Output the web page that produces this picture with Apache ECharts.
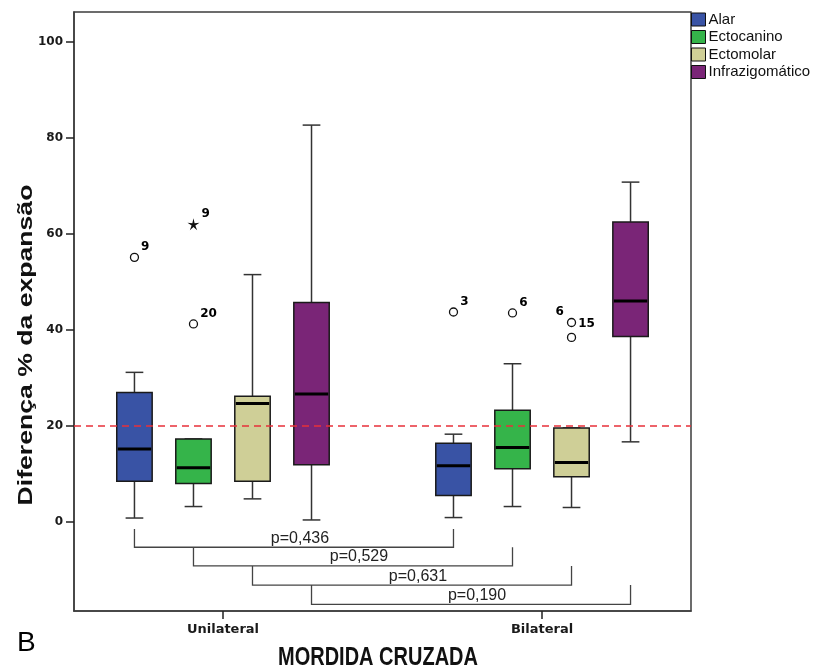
<!DOCTYPE html>
<html>
<head>
<meta charset="utf-8">
<script src="https://cdn.jsdelivr.net/npm/echarts@6/dist/echarts.min.js"></script>
<style>
  html, body { margin: 0; padding: 0; background: #fff; }
  #chart { width: 816px; height: 670px; }
</style>
</head>
<body>
<div id="chart"></div>
<script>
// ---- data ----
const groups = ['Unilateral', 'Bilateral'];
const regions = ['Alar', 'Ectocanino', 'Ectomolar', 'Infrazigomático'];

// five-number summaries [min, Q1, median, Q3, max], one row per group
const alarBox = [[0.7, 8.4, 15.1, 26.9, 31.1], [0.8, 5.4, 11.6, 16.3, 18.2]];
const ectocaninoBox = [[3.1, 7.9, 11.2, 17.2, 17.2], [3.1, 11.0, 15.4, 23.2, 32.9]];
const ectomolarBox = [[4.7, 8.4, 24.6, 26.1, 51.5], [2.9, 9.3, 12.3, 19.5, 19.5]];
const infraBox = [[0.3, 11.8, 26.6, 45.7, 82.7], [16.6, 38.6, 46.0, 62.5, 70.8]];

// outlying cases: [group index, value, case number, kind ('o' outlier, '*' extreme)]
const alarOut = [[0, 55.1, '9', 'o'], [1, 43.7, '3', 'o']];
const ectocaninoOut = [[0, 62.0, '9', '*'], [0, 41.2, '20', 'o'], [1, 43.5, '6', 'o']];
const ectomolarOut = [[1, 41.5, '15', 'o'], [1, 38.4, '6', 'o']];
const infraOut = [];

const referenceValue = 20;
const pValues = ['p=0,436', 'p=0,529', 'p=0,631', 'p=0,190'];
const yTicks = [0, 20, 40, 60, 80, 100];

// ---- layout ----
const colors = ['#3953a5', '#35b44a', '#cfcf97', '#7a2577'];
const SLOT_STEP = 0.185;      // distance between neighbouring boxes (x units)
const BOX_WIDTH = 0.111;      // box width (x units)
const bracketLevels = [-1.6, -5.4, -9.3, -13.3, -17.3];
const FONT = '"Liberation Sans", Arial, sans-serif';
const NUM_FONT = '"DejaVu Sans", sans-serif';

const boxes = [alarBox, ectocaninoBox, ectomolarBox, infraBox];
const outliers = [alarOut, ectocaninoOut, ectomolarOut, infraOut];

function slotOffset(slot) { return (slot - 1.5) * SLOT_STEP; }

const STAR = 'path://M50,0 L59,38 L98,35 L65,56 L79,93 L50,68 L21,93 L35,56 L2,35 L41,38 Z';

const labelPlacement = {
  'Ectomolar|1|6': { position: 'left', offset: [1, -26] },
  'Ectomolar|1|15': { position: 'right', offset: [-2, 1] }
};

function renderBox(slot) {
  return function (params, api) {
    const gx = api.value(0) + slotOffset(slot);
    const pMin = api.coord([gx, api.value(1)]);
    const pQ1 = api.coord([gx, api.value(2)]);
    const pMed = api.coord([gx, api.value(3)]);
    const pQ3 = api.coord([gx, api.value(4)]);
    const pMax = api.coord([gx, api.value(5)]);
    const w = api.size([BOX_WIDTH, 0])[0];
    const cx = pMin[0];
    const cap = w / 4;
    const whisker = { stroke: '#333', lineWidth: 1.5 };
    return {
      type: 'group',
      children: [
        { type: 'line', shape: { x1: cx, y1: pMin[1], x2: cx, y2: pQ1[1] }, style: whisker },
        { type: 'line', shape: { x1: cx, y1: pQ3[1], x2: cx, y2: pMax[1] }, style: whisker },
        { type: 'line', shape: { x1: cx - cap, y1: pMin[1], x2: cx + cap, y2: pMin[1] }, style: whisker },
        { type: 'line', shape: { x1: cx - cap, y1: pMax[1], x2: cx + cap, y2: pMax[1] }, style: whisker },
        {
          type: 'rect',
          shape: { x: cx - w / 2, y: pQ3[1], width: w, height: pQ1[1] - pQ3[1] },
          style: { fill: api.visual('color'), stroke: '#1a1a1a', lineWidth: 1.5 }
        },
        {
          type: 'line',
          shape: { x1: cx - w / 2 + 1, y1: pMed[1], x2: cx + w / 2 - 1, y2: pMed[1] },
          style: { stroke: '#000', lineWidth: 3 }
        }
      ]
    };
  };
}

function renderBracket(params, api) {
  const a = api.coord([api.value(0), api.value(2)]);
  const b = api.coord([api.value(0), api.value(3)]);
  const c = api.coord([api.value(1), api.value(3)]);
  const d = api.coord([api.value(1), api.value(2)]);
  return {
    type: 'group',
    children: [
      {
        type: 'polyline',
        shape: { points: [a, b, c, d] },
        style: { stroke: '#444', lineWidth: 1.3, fill: null }
      },
      {
        type: 'text',
        x: (b[0] + c[0]) / 2 + 6,
        y: b[1] - 1,
        style: {
          text: pValues[params.dataIndex],
          font: '16px ' + FONT,
          fill: '#222',
          align: 'center', verticalAlign: 'bottom',
          textAlign: 'center', textVerticalAlign: 'bottom'
        }
      }
    ]
  };
}

const series = [];

regions.forEach(function (name, slot) {
  series.push({
    name: name,
    type: 'custom',
    renderItem: renderBox(slot),
    itemStyle: { color: colors[slot] },
    encode: { x: 0, y: [1, 2, 3, 4, 5] },
    data: boxes[slot].map(function (b, gi) { return [gi + 1].concat(b); }),
    z: 3
  });
});

regions.forEach(function (name, slot) {
  if (!outliers[slot].length) return;
  series.push({
    type: 'scatter',
    z: 4,
    data: outliers[slot].map(function (o) {
      const extreme = o[3] === '*';
      const place = labelPlacement[name + '|' + o[0] + '|' + o[2]] || { position: 'right', offset: [-2, -10] };
      return {
        value: [o[0] + 1 + slotOffset(slot), o[1]],
        symbol: extreme ? STAR : 'circle',
        symbolSize: extreme ? 12 : 8,
        itemStyle: extreme
          ? { color: '#111', borderWidth: 0, opacity: 1 }
          : { color: '#fff', borderColor: '#111', borderWidth: 1.3, opacity: 1 },
        label: {
          show: true,
          formatter: o[2],
          position: place.position,
          offset: place.offset,
          distance: 4,
          color: '#000',
          opacity: 1,
          fontFamily: NUM_FONT,
          fontWeight: 'bold',
          fontSize: 12
        }
      };
    })
  });
});

series.push({
  type: 'custom',
  renderItem: renderBracket,
  encode: { x: [0, 1], y: [2, 3] },
  data: pValues.map(function (p, i) {
    return [1 + slotOffset(i), 2 + slotOffset(i), bracketLevels[i], bracketLevels[i + 1]];
  }),
  z: 2
});

series.push({
  type: 'line',
  data: [],
  markLine: {
    silent: true,
    symbol: 'none',
    label: { show: false },
    lineStyle: { color: '#e8303a', type: [7, 5], width: 1.6 },
    data: [{ yAxis: referenceValue }]
  }
});

const chart = echarts.init(document.getElementById('chart'), null, { renderer: 'canvas' });

chart.setOption({
  animation: false,
  backgroundColor: '#fff',
  grid: {
    left: 74, top: 12, right: 125, bottom: 59,
    show: true, borderColor: '#3c3c3c', borderWidth: 1.5
  },
  legend: {
    data: regions,
    orient: 'vertical',
    left: 691, top: 12,
    padding: 0,
    itemWidth: 14, itemHeight: 13, itemGap: 2.5,
    icon: 'rect',
    itemStyle: { borderColor: '#111', borderWidth: 1 },
    textStyle: { fontFamily: FONT, fontSize: 15, color: '#111', padding: [0, 0, 0, -2] }
  },
  xAxis: {
    type: 'value',
    min: 0.533, max: 2.467,
    splitLine: { show: false },
    axisLine: { show: true, onZero: false, lineStyle: { color: '#3c3c3c', width: 1.5 } },
    axisTick: { show: true, length: 8, customValues: [1, 2], lineStyle: { color: '#222', width: 1.5 } },
    axisLabel: {
      customValues: [1, 2],
      formatter: function (v) { return groups[Math.round(v) - 1] || ''; },
      margin: 12,
      fontFamily: NUM_FONT, fontWeight: 'bold', fontSize: 13, color: '#1a1a1a'
    }
  },
  yAxis: {
    type: 'value',
    min: -18.7, max: 106.3,
    splitLine: { show: false },
    axisLine: { show: true, onZero: false, lineStyle: { color: '#3c3c3c', width: 1.5 } },
    axisTick: { show: true, length: 8, customValues: yTicks, lineStyle: { color: '#222', width: 1.5 } },
    axisLabel: {
      customValues: yTicks,
      margin: 11,
      fontFamily: NUM_FONT, fontWeight: 'bold', fontSize: 12, color: '#1a1a1a'
    }
  },
  graphic: [
    {
      type: 'text',
      x: 26, y: 345,
      rotation: Math.PI / 2,
      scaleX: 1.33,
      style: {
        text: 'Diferença % da expansão',
        font: 'bold 20px ' + FONT,
        fill: '#111',
        align: 'center', verticalAlign: 'middle',
        textAlign: 'center', textVerticalAlign: 'middle'
      }
    },
    {
      type: 'text',
      x: 378, y: 658,
      scaleY: 1.3,
      style: {
        text: 'MORDIDA CRUZADA',
        font: 'bold 20px ' + FONT,
        fill: '#111',
        align: 'center', verticalAlign: 'middle',
        textAlign: 'center', textVerticalAlign: 'middle'
      }
    },
    {
      type: 'text',
      x: 17, y: 643,
      style: {
        text: 'B',
        font: '28px ' + FONT,
        fill: '#000',
        align: 'left', verticalAlign: 'middle',
        textAlign: 'left', textVerticalAlign: 'middle'
      }
    }
  ],
  series: series
});
</script>
</body>
</html>
